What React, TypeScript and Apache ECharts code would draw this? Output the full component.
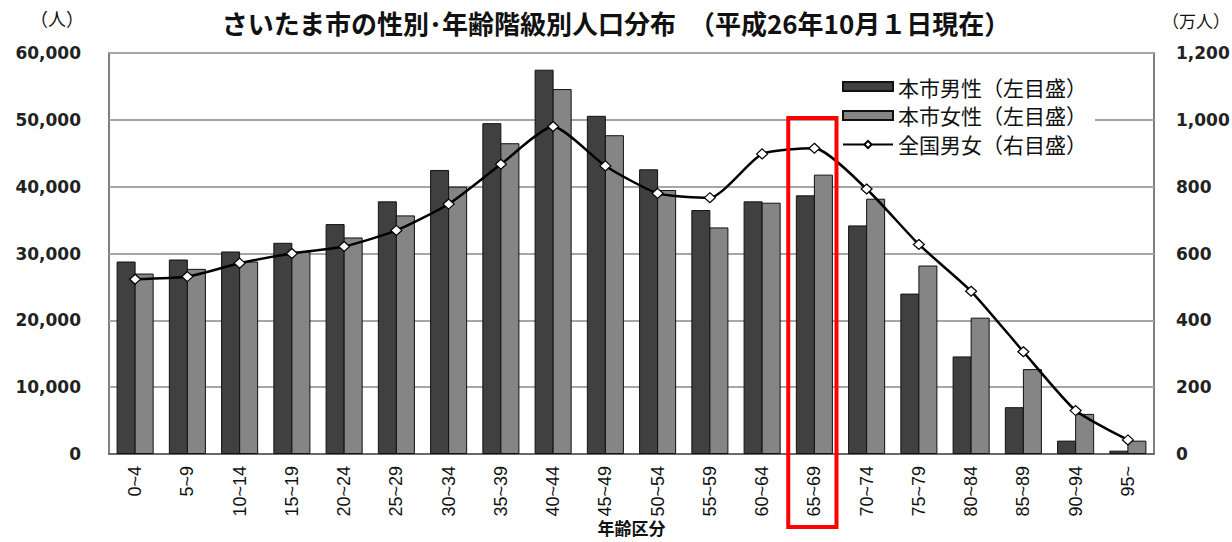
import React, { useEffect, useRef } from "react";
import * as echarts from "echarts";

const categories = ["0~4", "5~9", "10~14", "15~19", "20~24", "25~29", "30~34", "35~39", "40~44", "45~49", "50~54", "55~59", "60~64", "65~69", "70~74", "75~79", "80~84", "85~89", "90~94", "95~"];
const maleCity = [28800, 29100, 30300, 31600, 34400, 37800, 42500, 49500, 57500, 50600, 42600, 36500, 37800, 38700, 34200, 24000, 14600, 7000, 2000, 500];
const femaleCity = [27000, 27700, 28800, 30300, 32400, 35700, 40000, 46500, 54600, 47700, 39500, 33900, 37600, 41800, 38200, 28200, 20400, 12700, 6000, 2000];
const nationalTotal = [523, 531, 571, 600, 621, 669, 748, 867, 980, 862, 780, 767, 898, 915, 793, 627, 487, 306, 130, 42];
const highlightCategory = "65~69";

const titleText = "さいたま市の性別･年齢階級別人口分布　（平成26年10月１日現在）";
const seriesNames = ["本市男性（左目盛）", "本市女性（左目盛）", "全国男女（右目盛）"];

export default function App() {
  const ref = useRef<HTMLDivElement>(null);
  useEffect(() => {
    if (!ref.current) return;
    const chart = echarts.init(ref.current, undefined, { renderer: "svg" });
    const numFont = "'DejaVu Sans', 'Liberation Sans', sans-serif";
    const cjkFont = "'Noto Sans CJK JP', 'Noto Sans', sans-serif";
    const unitTexts = [
      {
        type: "text",
        left: 30,
        top: 9,
        style: { text: "（人）", fontFamily: cjkFont, fontSize: 18, fill: "#111" },
      },
      {
        type: "text",
        left: 1162,
        top: 12,
        style: { text: "（万人）", fontFamily: cjkFont, fontSize: 17, fill: "#111" },
      },
    ];
    chart.setOption({
      animation: false,
      backgroundColor: "#ffffff",
      title: {
        text: titleText,
        left: "center",
        top: 4,
        textStyle: { fontFamily: cjkFont, fontSize: 26, fontWeight: "bold", color: "#111" },
      },
      legend: {
        orient: "vertical",
        left: 838,
        top: 72,
        itemWidth: 50,
        itemHeight: 9,
        itemGap: 8,
        backgroundColor: "#ffffff",
        padding: [4, 8, 4, 4],
        textStyle: { fontFamily: cjkFont, fontSize: 21, color: "#111" },
        data: [
          { name: seriesNames[0], icon: "rect" },
          { name: seriesNames[1], icon: "rect" },
          { name: seriesNames[2] },
        ],
      },
      grid: {
        left: 109,
        right: 78,
        top: 53,
        bottom: 88,
        containLabel: false,
        outerBoundsMode: "none",
        show: true,
        borderColor: "#555",
        borderWidth: 1.5,
        backgroundColor: "transparent",
      },
      xAxis: {
        type: "category",
        data: categories,
        axisTick: { show: false },
        axisLine: { show: true, lineStyle: { color: "#555", width: 1.5 } },
        axisLabel: {
          rotate: 90,
          margin: 12,
          interval: 0,
          fontFamily: "'Liberation Sans', Arial, sans-serif",
          fontSize: 18,
          color: "#111",
        },
        name: "年齢区分",
        nameLocation: "middle",
        nameMoveOverlap: false,
        nameGap: 65,
        nameTextStyle: { fontFamily: cjkFont, fontSize: 17, fontWeight: "bold", color: "#111" },
      },
      yAxis: [
        {
          type: "value",
          min: 0,
          max: 60000,
          interval: 10000,
          axisLine: { show: false },
          axisTick: { show: false },
          splitLine: { show: true, lineStyle: { color: "#a6a6a6", width: 2 } },
          axisLabel: {
            margin: 28,
            fontFamily: numFont,
            fontSize: 17,
            fontWeight: "bold",
            color: "#222",
            formatter: (v: number) => v.toLocaleString("en-US"),
          },
        },
        {
          type: "value",
          min: 0,
          max: 1200,
          interval: 200,
          axisLine: { show: false },
          axisTick: { show: false },
          splitLine: { show: false },
          axisLabel: {
            margin: 22,
            fontFamily: numFont,
            fontSize: 17,
            fontWeight: "bold",
            color: "#222",
            formatter: (v: number) => v.toLocaleString("en-US"),
          },
        },
      ],
      series: [
        {
          name: seriesNames[0],
          type: "bar",
          data: maleCity,
          barWidth: 19,
          barGap: "-5%",
          itemStyle: { color: "#404040", borderColor: "#111", borderWidth: 1 },
        },
        {
          name: seriesNames[1],
          type: "bar",
          data: femaleCity,
          barWidth: 19,
          barGap: "-5%",
          itemStyle: { color: "#858585", borderColor: "#111", borderWidth: 1 },
        },
        {
          name: seriesNames[2],
          type: "line",
          yAxisIndex: 1,
          data: nationalTotal,
          smooth: 0.2,
          symbol: "diamond",
          symbolSize: [11, 10],
          lineStyle: { color: "#000", width: 2.5 },
          itemStyle: { color: "#ffffff", borderColor: "#000", borderWidth: 1.2 },
          z: 5,
        },
      ],
      graphic: unitTexts,
    });

    const idx = categories.indexOf(highlightCategory);
    const cx = chart.convertToPixel({ xAxisIndex: 0 }, idx) as number;
    const c0 = chart.convertToPixel({ xAxisIndex: 0 }, 0) as number;
    const c1 = chart.convertToPixel({ xAxisIndex: 0 }, 1) as number;
    const w = (c1 - c0) - 4;
    chart.setOption({
      graphic: [
        ...unitTexts,
        {
          type: "rect",
          z: 100,
          shape: { x: cx - w / 2 - 2, y: 118, width: w, height: 409 },
          style: { fill: "none", stroke: "#ff0000", lineWidth: 4 },
        },
      ],
    });

    return () => chart.dispose();
  }, []);
  return <div ref={ref} style={{ width: 1232, height: 542, position: "absolute", left: 0, top: 0 }} />;
}
